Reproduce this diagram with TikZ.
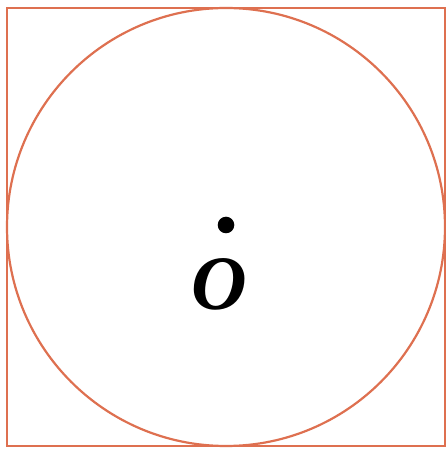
\documentclass[tikz,border=0pt]{standalone}
\usepackage{fontspec}
\setmainfont{Liberation Serif}
\definecolor{edge}{RGB}{222,112,80}
\begin{document}
\begin{tikzpicture}[x=1pt,y=1pt,
  shapeline/.style={draw=edge,line width=2.2pt}]
\useasboundingbox (0,0) rectangle (446,450);
\draw[shapeline] (7,4) rectangle (445,442);
\draw[shapeline] (226,223) circle (219);
\fill (226,225) circle (8.3);
\node[font=\fontsize{77}{77}\selectfont\bfseries\itshape, inner sep=0pt] (O) at (219.5,165.5) {O};
\end{tikzpicture}
\end{document}
